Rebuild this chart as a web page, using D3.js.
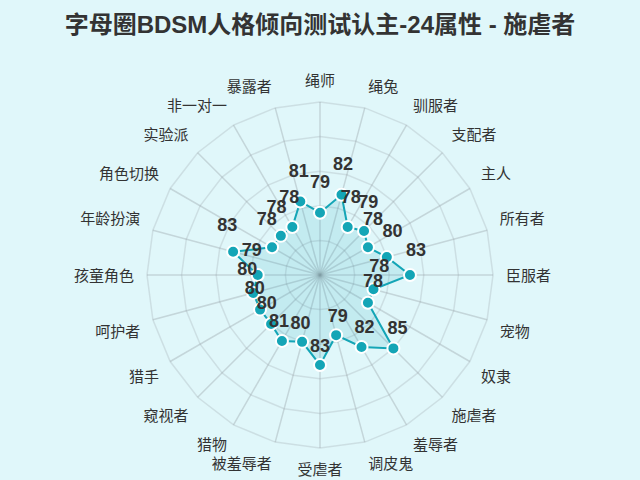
<!DOCTYPE html>
<html>
<head>
<meta charset="utf-8">
<script src="https://cdn.jsdelivr.net/npm/d3@7.9.0/dist/d3.min.js"></script>
<style>
  html, body { margin: 0; padding: 0; background: #e0f7fa; }
  svg { display: block; font-family: "Liberation Sans", "Noto Sans CJK SC", sans-serif; }
</style>
</head>
<body>
<svg id="chart" width="640" height="480"></svg>
<script>
const title = '字母圈BDSM人格倾向测试认主-24属性 - 施虐者';

// 24 attributes, clockwise from the top
const categories = [
  '绳师', '绳兔', '驯服者', '支配者', '主人', '所有者', '臣服者', '宠物',
  '奴隶', '施虐者', '羞辱者', '调皮鬼', '受虐者', '被羞辱者', '猎物', '窥视者',
  '猎手', '呵护者', '孩童角色', '年龄扮演', '角色切换', '实验派', '非一对一', '暴露者'
];
const values = [
  79, 82, 78, 79, 78, 80, 83, 78,
  78, 85, 82, 79, 83, 80, 81, 80,
  80, 80, 79, 83, 78, 78, 78, 81
];
const ringTicks = [75, 80, 85, 90, 95];

const width = 640, height = 480;
const cx = 320, cy = 275;
const R = 173;
const teal = '#14a5b6';

const svg = d3.select('#chart');

svg.append('text')
  .attr('x', width / 2)
  .attr('y', 24)
  .attr('text-anchor', 'middle')
  .attr('dominant-baseline', 'central')
  .attr('font-size', 24)
  .attr('font-weight', 'bold')
  .attr('fill', '#333')
  .text(title);

const r = d3.scaleLinear().domain([70, 95]).range([0, R]);
const angle = d3.scaleLinear().domain([0, categories.length]).range([0, 2 * Math.PI]);

const g = svg.append('g').attr('transform', `translate(${cx},${cy})`);

// grid rings (polygons)
const ringLine = d3.lineRadial()
  .angle((d, i) => angle(i))
  .radius(d => d)
  .curve(d3.curveLinearClosed);

ringTicks.forEach(t => {
  g.append('path')
    .attr('d', ringLine(categories.map(() => r(t))))
    .attr('fill', 'none')
    .attr('stroke', 'rgba(160,170,175,0.3)')
    .attr('stroke-width', 1.5);
});

// spokes
categories.forEach((c, i) => {
  const a = angle(i);
  g.append('line')
    .attr('x1', 0).attr('y1', 0)
    .attr('x2', R * Math.sin(a))
    .attr('y2', -R * Math.cos(a))
    .attr('stroke', 'rgba(150,160,165,0.38)')
    .attr('stroke-width', 1.5);
});

// category names
const nameR = 186;
categories.forEach((c, i) => {
  const a = angle(i);
  const s = Math.sin(a), co = Math.cos(a);
  g.append('text')
    .attr('x', nameR * s)
    .attr('y', -nameR * co)
    .attr('text-anchor', Math.abs(s) < 1e-4 ? 'middle' : (s > 0 ? 'start' : 'end'))
    .attr('dominant-baseline', Math.abs(co) < 1e-4 ? 'central' : (co > 0 ? 'text-after-edge' : 'text-before-edge'))
    .attr('font-size', 15)
    .attr('fill', '#333')
    .text(c);
});

// data area
const dataLine = d3.lineRadial()
  .angle((d, i) => angle(i))
  .radius(d => r(d))
  .curve(d3.curveLinearClosed);

g.append('path')
  .attr('d', dataLine(values))
  .attr('fill', 'rgba(20,165,182,0.14)')
  .attr('stroke', teal)
  .attr('stroke-width', 2);

const pts = values.map((v, i) => {
  const a = angle(i);
  return { v, a, x: r(v) * Math.sin(a), y: -r(v) * Math.cos(a) };
});

g.selectAll('circle.pt')
  .data(pts)
  .join('circle')
  .attr('class', 'pt')
  .attr('cx', d => d.x)
  .attr('cy', d => d.y)
  .attr('r', 6)
  .attr('fill', teal)
  .attr('stroke', '#fff')
  .attr('stroke-width', 2);

g.selectAll('text.val')
  .data(pts)
  .join('text')
  .attr('class', 'val')
  .attr('x', d => d.x + 6 * Math.sin(d.a))
  .attr('y', d => d.y - 6 * Math.cos(d.a) - 25)
  .attr('text-anchor', 'middle')
  .attr('dominant-baseline', 'central')
  .attr('font-size', 18)
  .attr('font-weight', 'bold')
  .attr('fill', '#333')
  .text(d => d.v);
</script>
</body>
</html>
